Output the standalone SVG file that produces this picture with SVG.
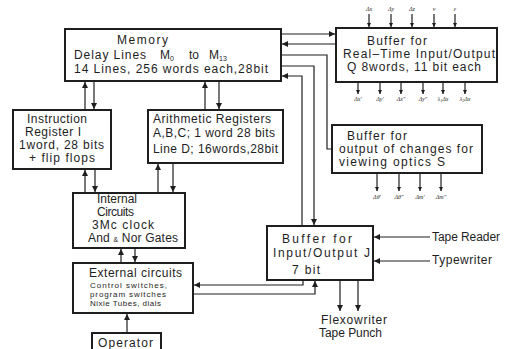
<svg xmlns="http://www.w3.org/2000/svg" width="505" height="349" viewBox="0 0 505 349" xml:space="preserve">
<defs>
<style>
.box{fill:none;stroke:#1e1e1e;stroke-width:2}
.t{font-family:"Liberation Sans",Arial,sans-serif;font-size:12px;fill:#1e1e1e}
.s{font-family:"Liberation Sans",Arial,sans-serif;font-size:8px;fill:#1e1e1e}
.xs{font-family:"Liberation Serif","Times New Roman",serif;font-style:italic;font-size:6px;fill:#1e1e1e;text-anchor:middle}
.c path{fill:none;stroke:#1e1e1e;stroke-width:1.2}
</style>
<marker id="a" viewBox="0 0 6 6" refX="6" refY="3" markerWidth="6" markerHeight="6" markerUnits="userSpaceOnUse" orient="auto"><path d="M0,0 L6,3 L0,6 z" fill="#1e1e1e"/></marker>
<marker id="b" viewBox="0 0 6 6" refX="6" refY="3" markerWidth="4.5" markerHeight="4.5" markerUnits="userSpaceOnUse" orient="auto"><path d="M0,0 L6,3 L0,6 z" fill="#1e1e1e"/></marker>
</defs>
<rect width="505" height="349" fill="#ffffff"/>

<g id="memory">
<rect class="box" x="65" y="29" width="216" height="52"/>
<text class="t" x="117" y="44" textLength="51" font-size="13.5">Memory</text>
<text class="t" x="74" y="59" textLength="72">Delay  Lines</text>
<text class="t" x="160" y="59">M<tspan font-size="7" dy="2">0</tspan></text>
<text class="t" x="189" y="59">to</text>
<text class="t" x="209" y="59">M<tspan font-size="7" dy="2">13</tspan></text>
<text class="t" x="74" y="73" textLength="194" lengthAdjust="spacing">14 Lines, 256  words  each,28bit</text>
</g>

<g id="instruction-register">
<rect class="box" x="13" y="110" width="98" height="59"/>
<text class="t" x="27" y="123" textLength="60">Instruction</text>
<text class="t" x="25" y="136" textLength="56">Register   I</text>
<text class="t" x="19" y="149" textLength="85">1word, 28 bits</text>
<text class="t" x="29" y="162" textLength="66">+ flip flops</text>
</g>

<g id="arithmetic-registers">
<rect class="box" x="148" y="110" width="135" height="53"/>
<text class="t" x="153" y="123" textLength="118">Arithmetic  Registers</text>
<text class="t" x="153" y="137" textLength="122">A,B,C; 1 word  28 bits</text>
<text class="t" x="153" y="153" textLength="125">Line D; 16words,28bit</text>
</g>

<g id="internal-circuits">
<rect class="box" x="73" y="193" width="112" height="55"/>
<text class="t" x="97" y="203" textLength="40">Internal</text>
<text class="t" x="97" y="216" textLength="37">Circuits</text>
<text class="t" x="92" y="229" textLength="62">3Mc clock</text>
<text class="t" x="88" y="242" textLength="90">And <tspan font-size="7">&amp;</tspan> Nor Gates</text>
</g>

<g id="external-circuits">
<rect class="box" x="73" y="263" width="120" height="50"/>
<text class="t" x="89" y="277" textLength="93">External circuits</text>
<text class="s" x="90" y="288" textLength="77">Control  switches,</text>
<text class="s" x="90" y="297" textLength="76">program  switches</text>
<text class="s" x="90" y="306" textLength="71">Nixie Tubes, dials</text>
</g>

<g id="operator">
<path class="box" d="M92,350 V333 H161 V350"/>
<text class="t" x="98" y="347" textLength="55">Operator</text>
</g>

<g id="buffer-q">
<rect class="box" x="336" y="28" width="161" height="54"/>
<text class="t" x="367" y="45" textLength="60">Buffer  for</text>
<text class="t" x="343" y="58" textLength="152">Real–Time Input/Output</text>
<text class="t" x="347" y="71" textLength="134">Q   8words, 11 bit each</text>
</g>

<g id="buffer-s">
<rect class="box" x="332" y="125" width="150" height="48"/>
<text class="t" x="347" y="140" textLength="60">Buffer  for</text>
<text class="t" x="339" y="153" textLength="134">output of changes for</text>
<text class="t" x="339" y="166" textLength="106">viewing optics  S</text>
</g>

<g id="buffer-j">
<rect class="box" x="267" y="226" width="106" height="54"/>
<text class="t" x="282" y="243" textLength="70">Buffer   for</text>
<text class="t" x="273" y="257" textLength="97">Input/Output  J</text>
<text class="t" x="292" y="274" textLength="28">7 bit</text>
</g>

<g id="devices">
<text class="t" x="432" y="241" textLength="68">Tape Reader</text>
<text class="t" x="432" y="264" textLength="60">Typewriter</text>
<text class="t" x="321" y="324" textLength="66">Flexowriter</text>
<text class="t" x="319" y="337" textLength="63">Tape Punch</text>
</g>

<g id="signal-labels">
<text class="xs" x="369" y="11">Δx</text>
<text class="xs" x="391" y="11">Δy</text>
<text class="xs" x="412" y="11">Δz</text>
<text class="xs" x="434" y="11">v</text>
<text class="xs" x="455" y="11">ε</text>
<text class="xs" x="358" y="101">Δx′</text>
<text class="xs" x="380" y="101">Δy′</text>
<text class="xs" x="401" y="101">Δx″</text>
<text class="xs" x="423" y="101">Δy″</text>
<text class="xs" x="443" y="101">λ<tspan font-size="4" dy="1">1</tspan><tspan dy="-1">Δx</tspan></text>
<text class="xs" x="465" y="101">λ<tspan font-size="4" dy="1">2</tspan><tspan dy="-1">Δx</tspan></text>
<text class="xs" x="377" y="199">Δθ′</text>
<text class="xs" x="399" y="199">Δθ″</text>
<text class="xs" x="420" y="199">Δm′</text>
<text class="xs" x="441" y="199">Δm″</text>
</g>

<g id="connectors" class="c">
<path d="M282,34 H335" marker-end="url(#a)"/>
<path d="M336,44 H282" marker-end="url(#a)"/>
<path d="M282,55 H327 V149 H332"/>
<path d="M282,66 H314 V225" marker-end="url(#a)"/>
<path d="M302,226 V76 H282" marker-end="url(#a)"/>
<path d="M85,110 V82" marker-end="url(#a)"/>
<path d="M94,81 V109" marker-end="url(#a)"/>
<path d="M205,110 V82" marker-end="url(#a)"/>
<path d="M219,81 V109" marker-end="url(#a)"/>
<path d="M85,193 V170" marker-end="url(#a)"/>
<path d="M95,169 V192" marker-end="url(#a)"/>
<path d="M158,193 V164" marker-end="url(#a)"/>
<path d="M173,163 V192" marker-end="url(#a)"/>
<path d="M121,263 V249" marker-end="url(#a)"/>
<path d="M135,248 V262" marker-end="url(#a)"/>
<path d="M127,333 V314" marker-end="url(#a)"/>
<path d="M303,280 V285 H194" marker-end="url(#a)"/>
<path d="M193,294 H315 V281" marker-end="url(#a)"/>
<path d="M430,237 H374" marker-end="url(#a)"/>
<path d="M430,261 H374" marker-end="url(#a)"/>
<path d="M340,280 V311" marker-end="url(#a)"/>
<path d="M358,280 V311" marker-end="url(#a)"/>
<path d="M369,14 V27" marker-end="url(#b)"/>
<path d="M391,14 V27" marker-end="url(#b)"/>
<path d="M412,14 V27" marker-end="url(#b)"/>
<path d="M434,14 V27" marker-end="url(#b)"/>
<path d="M455,14 V27" marker-end="url(#b)"/>
<path d="M358,83 V94" marker-end="url(#b)"/>
<path d="M380,83 V94" marker-end="url(#b)"/>
<path d="M401,83 V94" marker-end="url(#b)"/>
<path d="M423,83 V94" marker-end="url(#b)"/>
<path d="M443,83 V94" marker-end="url(#b)"/>
<path d="M465,83 V94" marker-end="url(#b)"/>
<path d="M377,174 V191" marker-end="url(#b)"/>
<path d="M399,174 V191" marker-end="url(#b)"/>
<path d="M420,174 V191" marker-end="url(#b)"/>
<path d="M441,174 V191" marker-end="url(#b)"/>
</g>
</svg>
